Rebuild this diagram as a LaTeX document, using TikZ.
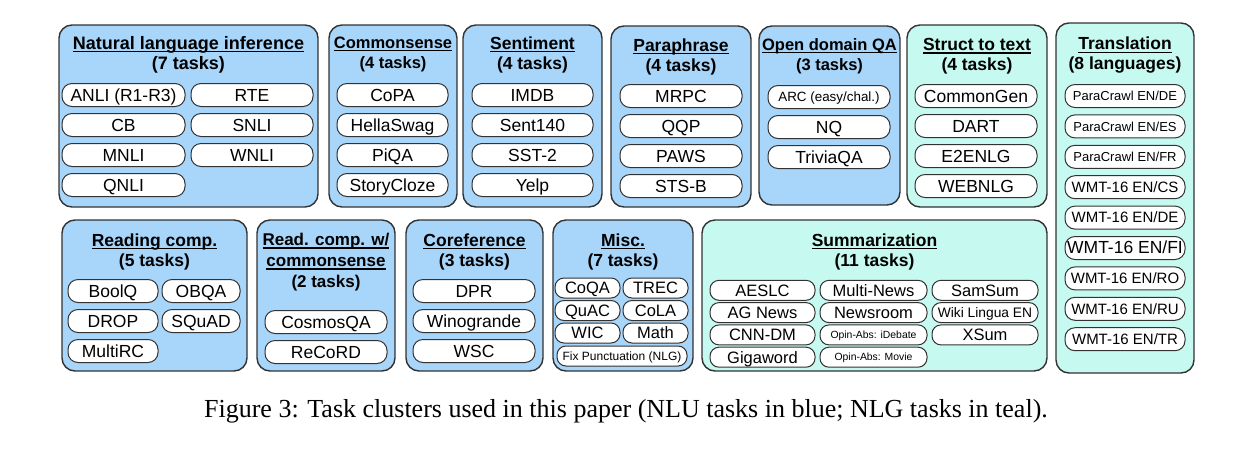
\documentclass[tikz,border=0pt]{standalone}
\usepackage{fontspec}
\setmainfont{Liberation Sans}
\newfontfamily\capfont{Liberation Serif}
\definecolor{nlublue}{RGB}{168,213,250}
\definecolor{nlgteal}{RGB}{198,250,241}
\definecolor{edge}{RGB}{50,50,50}
\newcommand{\ulhead}[1]{\setbox0=\hbox{#1}\rlap{\vrule width\wd0 height -0.09em depth 0.16em}\box0}

\begin{document}
\begin{tikzpicture}[
    x=1pt, y=-1pt,
    cluster/.style={draw=edge, line width=1.4pt, rounded corners=13pt}, % cluster frame
    nlu/.style={cluster, fill=nlublue},
    nlg/.style={cluster, fill=nlgteal},
    head/.style={align=center, inner sep=0pt, yshift=-1.5pt, font=\fontsize{17.5}{20}\selectfont\bfseries},
    fs/.style={font=\fontsize{#1}{#1}\selectfont, text height={0.716*#1pt}, text depth=0pt}, % caps centred
    task/.style={draw=edge, line width=1pt, fill=white, rounded corners=10pt, inner sep=0pt,
        minimum height=23pt, fs=17.5},
    small/.style={task, minimum height=20pt, rounded corners=9pt, fs=16.5}
]
    \useasboundingbox (0,0) rectangle (1235,451);

    % 1. top row: NLI
    \node[nlu, minimum width=259pt, minimum height=182pt] (nli) at (188.5,116) {};
    \node[head, font=\fontsize{18}{20}\selectfont\bfseries] (nlihead) at (188.5,53) {\ulhead{Natural language inference}\\(7 tasks)};
    \foreach \t [count=\i] in {ANLI (R1-R3), CB, MNLI, QNLI}
        \node[task, minimum width=123pt] (nlia\i) at (123.5, 65+30*\i) {\t};
    \foreach \t [count=\i] in {RTE, SNLI, WNLI}
        \node[task, minimum width=122pt] (nlib\i) at (252, 65+30*\i) {\t};

    % commonsense
    \node[nlu, minimum width=128pt, minimum height=182pt] (cs) at (393,116) {};
    \node[head, font=\fontsize{16.5}{20}\selectfont\bfseries] (cshead) at (393,53) {\ulhead{Commonsense}\\(4 tasks)};
    \foreach \t [count=\i] in {CoPA, HellaSwag, PiQA, StoryCloze}
        \node[task, minimum width=111pt] (cs\i) at (392.5, 65+30*\i) {\t};

    % sentiment
    \node[nlu, minimum width=139pt, minimum height=182pt] (sent) at (532.5,116) {};
    \node[head] (senthead) at (532.5,53) {\ulhead{Sentiment}\\(4 tasks)};
    \foreach \t [count=\i] in {IMDB, Sent140, SST-2, Yelp}
        \node[task, minimum width=121pt] (sent\i) at (532.5, 65+30*\i) {\t};

    % paraphrase
    \node[nlu, minimum width=140pt, minimum height=181pt] (para) at (681,116.5) {};
    \node[head] (parahead) at (681,55) {\ulhead{Paraphrase}\\(4 tasks)};
    \foreach \t [count=\i] in {MRPC, QQP, PAWS, STS-B}
        \node[task, minimum width=122pt] (para\i) at (681, 66+30*\i) {\t};

    % open domain QA
    \node[nlu, minimum width=141pt, minimum height=179pt] (odqa) at (829.5,115.5) {};
    \node[head, font=\fontsize{16.5}{20}\selectfont\bfseries] (odqahead) at (829.5,55) {\ulhead{Open domain QA}\\(3 tasks)};
    \node[task, minimum width=122pt, fs=13.4] (odqa1) at (829, 97) {ARC (easy/chal.)};
    \foreach \t [count=\i from 2] in {NQ, TriviaQA}
        \node[task, minimum width=122pt] (odqa\i) at (829, 67+30*\i) {\t};

    % struct to text
    \node[nlg, minimum width=140pt, minimum height=182pt] (s2t) at (977,116) {};
    \node[head] (s2thead) at (977,55) {\ulhead{Struct to text}\\(4 tasks)};
    \foreach \t [count=\i] in {CommonGen, DART, E2ENLG, WEBNLG}
        \node[task, minimum width=122pt] (s2t\i) at (976, 66+30*\i) {\t};

    % translation
    \node[nlg, minimum width=138pt, minimum height=350pt] (trans) at (1125,198) {};
    \node[head] (transhead) at (1125,54) {\ulhead{Translation}\\(8 languages)};
    \foreach \t [count=\i] in {ParaCrawl EN/DE, ParaCrawl EN/ES, ParaCrawl EN/FR}
        \node[task, minimum width=120pt, fs=13] (trans\i) at (1125, 65.6+30.4*\i) {\t};
    \foreach \t [count=\i from 4] in {CS, DE, FI, RO, RU, TR}
        \node[task, minimum width=120pt, fs=15] (trans\i) at (1125, 65.6+30.4*\i)
            {\ifnum\i=6 \fontsize{17.5}{18}\selectfont\fi WMT-16 EN/\t};

    % 2. bottom row: reading comp.
    \node[nlu, minimum width=185pt, minimum height=151pt] (rc) at (154.5,295.5) {};
    \node[head] (rchead) at (154.5,250) {\ulhead{Reading comp.}\\(5 tasks)};
    \foreach \t [count=\i] in {BoolQ, DROP, MultiRC}
        \node[task, minimum width=90pt] (rca\i) at (113, 261+30*\i) {\t};
    \foreach \t [count=\i] in {OBQA, SQuAD}
        \node[task, minimum width=78pt] (rcb\i) at (201, 261+30*\i) {\t};

    % read. comp. with commonsense
    \node[nlu, minimum width=138pt, minimum height=151pt] (rccs) at (326,295.5) {};
    \node[head, font=\fontsize{17}{21}\selectfont\bfseries] (rccshead) at (326,261) {\ulhead{Read. comp. w/}\\\ulhead{commonsense}\\(2 tasks)};
    \foreach \t [count=\i] in {CosmosQA, ReCoRD}
        \node[task, minimum width=122pt] (rccs\i) at (326, 292+30*\i) {\t};

    % coreference
    \node[nlu, minimum width=137pt, minimum height=151pt] (coref) at (474.5,295.5) {};
    \node[head] (corefhead) at (474.5,250) {\ulhead{Coreference}\\(3 tasks)};
    \foreach \t [count=\i] in {DPR, Winogrande, WSC}
        \node[task, minimum width=122pt] (coref\i) at (474, 261+30*\i) {\t};

    % misc.
    \node[nlu, minimum width=140pt, minimum height=151pt] (misc) at (623,295.5) {};
    \node[head] (mischead) at (623,250) {\ulhead{Misc.}\\(7 tasks)};
    \foreach \t [count=\i] in {CoQA, QuAC, WIC}
        \node[small, minimum width=65pt] (misca\i) at (587.5, 265.5+22.5*\i) {\t};
    \foreach \t [count=\i] in {TREC, CoLA, Math}
        \node[small, minimum width=65pt] (miscb\i) at (655.5, 265.5+22.5*\i) {\t};
    \node[small, minimum width=130pt, fs=12] (misc7) at (622,356) {Fix Punctuation (NLG)};

    % summarization
    \node[nlg, minimum width=345pt, minimum height=151pt] (summ) at (874.5,295.5) {};
    \node[head] (summhead) at (874.5,250) {\ulhead{Summarization}\\(11 tasks)};
    \foreach \t [count=\i] in {AESLC, AG News, CNN-DM, Gigaword}
        \node[small, minimum width=105pt] (summa\i) at (762.5, 268+22.3*\i) {\t};
    \foreach \t [count=\i] in {Multi-News, Newsroom}
        \node[small, minimum width=107pt] (summb\i) at (873.5, 268+22.3*\i) {\t};
    \foreach \t [count=\i from 3] in {Opin-Abs: iDebate, Opin-Abs: Movie}
        \node[small, minimum width=107pt, fs=10.4] (summb\i) at (873.5, 268+22.3*\i) {\t};
    \node[small, minimum width=106pt] (summc1) at (985, 290.3) {SamSum};
    \node[small, minimum width=106pt, fs=13.8] (summc2) at (985, 312.6) {Wiki Lingua EN};
    \node[small, minimum width=106pt] (summc3) at (985, 334.9) {XSum};

    % 3. caption
    \node[inner sep=0pt, font=\capfont\fontsize{26}{28}\selectfont] (caption) at (626,411)
        {Figure 3: Task clusters used in this paper (NLU tasks in blue; NLG tasks in teal).};
\end{tikzpicture}
\end{document}
